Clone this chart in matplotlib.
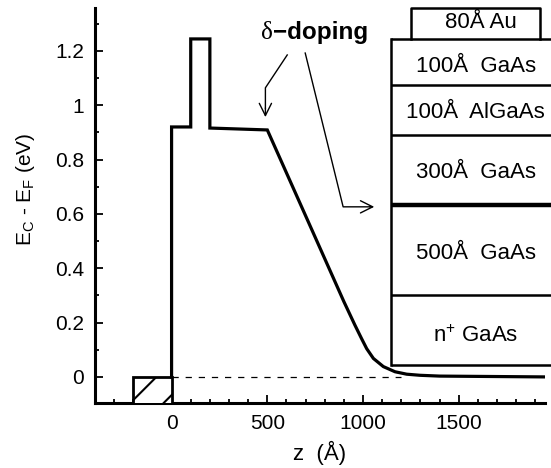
import matplotlib
matplotlib.use("Agg")
import matplotlib.pyplot as plt
from matplotlib.patches import Rectangle
from matplotlib.ticker import MultipleLocator

plt.rcParams['font.family'] = ['Liberation Sans', 'DejaVu Sans']
plt.rcParams['mathtext.fontset'] = 'custom'
plt.rcParams['mathtext.rm'] = 'Liberation Sans'
plt.rcParams['mathtext.it'] = 'Liberation Sans'
plt.rcParams['hatch.linewidth'] = 1.5

# conduction band edge vs depth
z_band = [0, 0, 100, 100, 200, 200, 500, 733, 900, 958, 993, 1019, 1054, 1106, 1167, 1228, 1297, 1400, 1950]
e_band = [0, 0.92, 0.92, 1.244, 1.244, 0.916, 0.909, 0.541, 0.277, 0.190, 0.140, 0.104, 0.068, 0.038,
          0.019, 0.010, 0.006, 0.003, 0.0]

# layer stack drawn on the right (energy-axis positions of the boundaries)
stack_left = 1145
stack_right = 2100
layer_edges = [0.045, 0.302, 0.633, 0.891, 1.075, 1.243]
layer_names = ["n$^{+}$ GaAs", "500Å  GaAs", "300Å  GaAs", "100Å  AlGaAs", "100Å  GaAs"]
layer_text_y = [0.151, 0.456, 0.754, 0.975, 1.141]
doping_edge = 0.633
au_box = (1253, 1922, 1.243, 1.357)

fig = plt.figure(figsize=(5.51, 4.68), dpi=100)
ax = fig.add_axes([0.1724, 0.1389, 0.8166, 0.8441])

# metal contact (hatched) and Fermi level
ax.add_patch(Rectangle((-200, -0.1), 200, 0.1, facecolor='white', edgecolor='black',
                       lw=2.0, hatch='/', zorder=3))
ax.plot([0, 1200], [0, 0], color='black', lw=0.9, dashes=(5, 5.5))

ax.plot(z_band, e_band, color='black', lw=2.3, solid_joinstyle='miter', zorder=4)

# layer stack
for y0 in layer_edges:
    w = 3.2 if y0 == doping_edge else 1.8
    ax.plot([stack_left, stack_right], [y0, y0], color='black', lw=w, clip_on=False,
            solid_capstyle='butt')
ax.plot([stack_left, stack_left], [layer_edges[0], layer_edges[-1]], color='black', lw=1.8,
        clip_on=False)
for name, ty in zip(layer_names, layer_text_y):
    ax.text(1589, ty, name, ha='center', va='center', fontsize=16, clip_on=False)

x0, x1, y0, y1 = au_box
ax.plot([x0, x0, x1, x1], [y0, y1, y1, y0], color='black', lw=1.8, clip_on=False)
ax.text((x0 + x1) / 2 + 30, 1.303, "80Å Au", ha='center', va='center', fontsize=16)

# delta-doping label and arrows
ax.text(531, 1.244, "δ", ha='right', va='baseline', fontsize=18, family='Liberation Serif')
ax.text(531, 1.244, "−doping", ha='left', va='baseline', fontsize=17.5, fontweight='bold')
ax.plot([604, 490, 490], [1.185, 1.064, 0.99], color='black', lw=1.0)
ax.annotate("", xy=(490, 0.946), xytext=(490, 1.0),
            arrowprops=dict(arrowstyle='->', color='black', lw=1.0, mutation_scale=22))
ax.plot([698, 896, 1040], [1.192, 0.626, 0.626], color='black', lw=1.0)
ax.annotate("", xy=(1073, 0.626), xytext=(1020, 0.626),
            arrowprops=dict(arrowstyle='->', color='black', lw=1.0, mutation_scale=22))

ax.set_xlim(-400, 1950)
ax.set_ylim(-0.096, 1.358)
ax.set_xticks([0, 500, 1000, 1500])
ax.set_yticks([0, 0.2, 0.4, 0.6, 0.8, 1.0, 1.2])
ax.set_yticklabels(["0", "0.2", "0.4", "0.6", "0.8", "1", "1.2"])
ax.xaxis.set_minor_locator(MultipleLocator(100))
ax.yaxis.set_minor_locator(MultipleLocator(0.1))
ax.tick_params(which='both', direction='in', width=1.3, labelsize=15, pad=8)
ax.tick_params(which='major', length=6)
ax.tick_params(which='minor', length=3)

for side in ['top', 'right']:
    ax.spines[side].set_visible(False)
for side in ['left', 'bottom']:
    ax.spines[side].set_linewidth(2.2)

ax.set_xlabel("z  (Å)", fontsize=16)
ax.xaxis.set_label_coords(0.5, -0.127)
ax.xaxis.label.set_va('center')
ax.set_ylabel("E$_C$ - E$_F$ (eV)", fontsize=15)
ax.yaxis.set_label_coords(-0.155, 0.54)
ax.yaxis.label.set_va('center')

fig.savefig("out.png", dpi=100)
